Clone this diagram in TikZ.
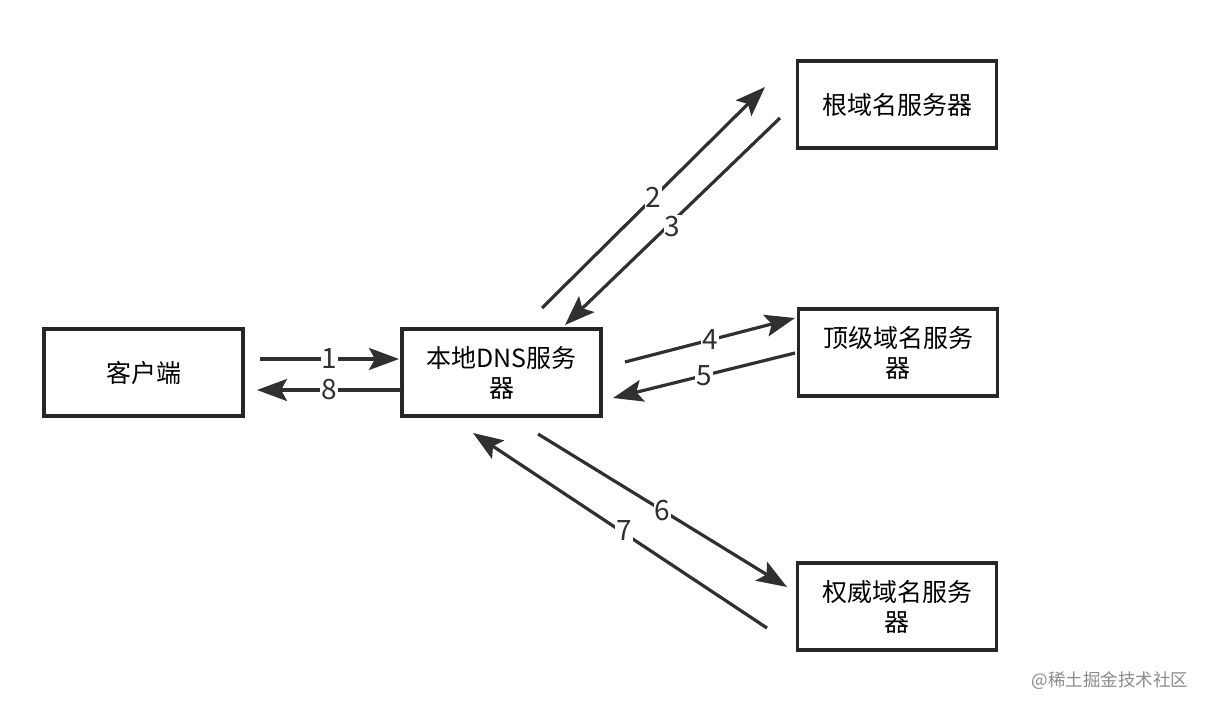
\documentclass[tikz,border=0pt]{standalone}
\usepackage{fontspec}
\setmainfont{Noto Sans CJK SC}
\usetikzlibrary{arrows.meta, positioning}
\usepackage{xcolor}
\definecolor{linegray}{HTML}{303030}
\definecolor{markgray}{HTML}{8A8A8A}

\begin{document}
\begin{tikzpicture}[
      x=1pt, y=-1pt,
      box/.style={draw=black!85, line width=3.5pt, minimum width=199pt, minimum height=87pt, align=center, font=\fontsize{25}{30}\selectfont},
      flow/.style={draw=linegray, line width=3.2pt, -{Stealth[length=30pt, width=22pt, inset=6pt]}},
      num/.style={midway, fill=white, inner sep=1pt, font=\fontsize{28}{28}\selectfont, text=linegray}
    ]
    \useasboundingbox (0,0) rectangle (1210,712);

    % Nodes
    \node[box] (client) at (143.5, 372.5) {客户端};
    \node[box] (local) at (501.5, 372.5) {本地DNS服务\\器};
    \node[box] (root) at (897, 104.5) {根域名服务器};
    \node[box] (tld) at (898, 352.5) {顶级域名服务\\器};
    \node[box] (auth) at (897, 606.5) {权威域名服务\\器};
    \node[text=markgray, font=\fontsize{17.5}{20}\selectfont] (watermark) at (1110, 681) {@稀土掘金技术社区};

    % Arrow ends
    \coordinate (q1) at (260, 359);
    \coordinate (q1end) at (399, 359);
    \coordinate (a8) at (401, 390);
    \coordinate (a8end) at (257, 390);
    \coordinate (q2) at (542, 308);
    \coordinate (q2end) at (765, 87);
    \coordinate (a3) at (780, 118);
    \coordinate (a3end) at (565, 325);
    \coordinate (q4) at (625, 362);
    \coordinate (q4end) at (795, 318);
    \coordinate (a5) at (795, 353);
    \coordinate (a5end) at (613, 398);
    \coordinate (q6) at (538, 434);
    \coordinate (q6end) at (787, 587);
    \coordinate (a7) at (767, 628);
    \coordinate (a7end) at (473, 433);

    % Arrows
    \draw[flow] (q1) -- node[num] {1} (q1end);
    \draw[flow] (a8) -- node[num] {8} (a8end);
    \draw[flow] (q2) -- node[num] {2} (q2end);
    \draw[flow] (a3) -- node[num, yshift=-5pt] {3} (a3end);
    \draw[flow] (q4) -- node[num] {4} (q4end);
    \draw[flow] (a5) -- node[num] {5} (a5end);
    \draw[flow] (q6) -- node[num] {6} (q6end);
    \draw[flow] (a7) -- node[num, xshift=4pt] {7} (a7end);
  \end{tikzpicture}
\end{document}
